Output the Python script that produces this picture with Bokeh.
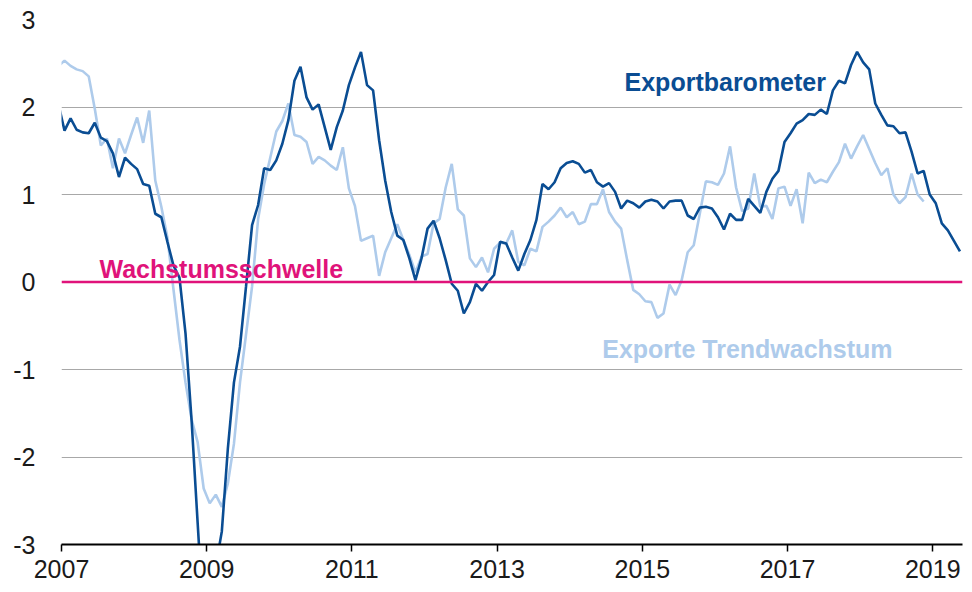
from bokeh.plotting import figure
from bokeh.models import FixedTicker, Span, Label
from bokeh.embed import file_html
from bokeh.resources import INLINE

# Monthly data, first value = Dec 2006 (plotted at mid-month)
start_year, start_month = 2006, 12

exportbarometer = [
    2.03, 1.73, 1.87, 1.74, 1.71, 1.70, 1.82, 1.65, 1.61, 1.47, 1.20, 1.42, 1.35,
    1.29, 1.12, 1.10, 0.78, 0.74, 0.46, 0.19, 0.05, -0.59, -1.58, -2.75, -3.90,
    -4.00, -3.25, -2.85, -1.90, -1.15, -0.74, -0.05, 0.65, 0.88, 1.30, 1.28, 1.39,
    1.58, 1.85, 2.30, 2.46, 2.11, 1.97, 2.03, 1.77, 1.51, 1.77, 1.96, 2.25, 2.45,
    2.63, 2.25, 2.19, 1.62, 1.16, 0.80, 0.53, 0.48, 0.27, 0.02, 0.27, 0.61, 0.70,
    0.50, 0.25, -0.02, -0.10, -0.36, -0.23, -0.02, -0.10, 0.00, 0.08, 0.46, 0.44,
    0.28, 0.13, 0.32, 0.48, 0.71, 1.12, 1.06, 1.14, 1.30, 1.36, 1.38, 1.35, 1.25,
    1.28, 1.14, 1.09, 1.13, 1.03, 0.84, 0.93, 0.90, 0.85, 0.92, 0.94, 0.92, 0.84,
    0.92, 0.93, 0.93, 0.76, 0.72, 0.85, 0.86, 0.84, 0.74, 0.60, 0.78, 0.71, 0.71,
    0.95, 0.87, 0.79, 1.03, 1.18, 1.27, 1.60, 1.70, 1.81, 1.85, 1.92, 1.91, 1.97,
    1.92, 2.19, 2.30, 2.27, 2.48, 2.63, 2.51, 2.43, 2.04, 1.91, 1.79, 1.78, 1.70,
    1.71, 1.49, 1.24, 1.27, 1.00, 0.90, 0.67, 0.59, 0.47, 0.35,
]

exporte_trend = [
    2.47, 2.53, 2.47, 2.43, 2.41, 2.35, 1.98, 1.56, 1.64, 1.30, 1.64, 1.47, 1.68,
    1.88, 1.59, 1.96, 1.16, 0.86, 0.51, -0.08, -0.66, -1.15, -1.57, -1.83, -2.36,
    -2.53, -2.43, -2.57, -2.30, -1.85, -1.15, -0.60, -0.05, 0.72, 1.12, 1.42, 1.72,
    1.84, 2.04, 1.68, 1.66, 1.60, 1.35, 1.43, 1.39, 1.33, 1.28, 1.54, 1.07, 0.87,
    0.47, 0.50, 0.53, 0.07, 0.34, 0.50, 0.66, 0.48, 0.31, 0.11, 0.29, 0.32, 0.67,
    0.72, 1.08, 1.35, 0.83, 0.76, 0.27, 0.17, 0.28, 0.11, 0.38, 0.45, 0.44, 0.59,
    0.23, 0.19, 0.38, 0.35, 0.63, 0.69, 0.76, 0.85, 0.74, 0.80, 0.66, 0.69, 0.89,
    0.89, 1.06, 0.80, 0.69, 0.61, 0.25, -0.09, -0.14, -0.22, -0.23, -0.41, -0.36,
    -0.03, -0.15, 0.02, 0.34, 0.42, 0.78, 1.15, 1.14, 1.11, 1.24, 1.55, 1.08, 0.81,
    0.84, 1.24, 0.86, 0.87, 0.72, 1.07, 1.09, 0.87, 1.06, 0.67, 1.25, 1.13, 1.17,
    1.14, 1.26, 1.37, 1.58, 1.41, 1.55, 1.68, 1.52, 1.36, 1.22, 1.30, 1.00, 0.90,
    0.97, 1.24, 1.00, 0.92,
]

year_ticks = [2007, 2009, 2011, 2013, 2015, 2017, 2019]
y_ticks = [-3, -2, -1, 0, 1, 2, 3]
y_labels = {v: str(v) for v in y_ticks}
x_labels = {v: str(v) for v in year_ticks}

label_baro = "Exportbarometer"
label_trend = "Exporte Trendwachstum"
label_zero = "Wachstumsschwelle"


def month_positions(n):
    base = start_year + (start_month - 1) / 12.0
    return [base + (i + 0.5) / 12.0 for i in range(n)]


x_baro = month_positions(len(exportbarometer))
x_trend = month_positions(len(exporte_trend))

DARK = "#0a4d93"
LIGHT = "#aecbeb"
MAGENTA = "#e0137a"
FONT = "Liberation Sans"

p = figure(width=972, height=592, x_range=(2007, 2019.41), y_range=(-3, 3),
           output_backend="svg", toolbar_location=None,
           min_border_left=61, min_border_right=10, min_border_top=19,
           min_border_bottom=48)
p.outline_line_color = None
p.background_fill_color = "white"
p.border_fill_color = "white"

p.xgrid.visible = False
p.ygrid.ticker = FixedTicker(ticks=[-2, -1, 1, 2, 3])
p.ygrid.grid_line_color = "#a8a8a8"
p.ygrid.grid_line_width = 1

p.xaxis.ticker = FixedTicker(ticks=year_ticks)
p.xaxis.major_label_overrides = x_labels
p.xaxis.axis_line_color = "black"
p.xaxis.axis_line_width = 2
p.xaxis.major_tick_line_color = "black"
p.xaxis.major_tick_line_width = 1.5
p.xaxis.major_tick_out = 7
p.xaxis.major_tick_in = 0
p.xaxis.minor_tick_line_color = None
p.xaxis.major_label_standoff = 8
p.xaxis.major_label_text_font = FONT
p.xaxis.major_label_text_font_size = "25px"
p.xaxis.major_label_text_color = "#1a1a1a"

p.yaxis.ticker = FixedTicker(ticks=y_ticks)
p.yaxis.major_label_overrides = y_labels
p.yaxis.axis_line_color = None
p.yaxis.major_tick_line_color = None
p.yaxis.minor_tick_line_color = None
p.yaxis.major_tick_out = 0
p.yaxis.major_tick_in = 0
p.yaxis.major_label_standoff = 26
p.yaxis.major_label_text_font = FONT
p.yaxis.major_label_text_font_size = "25px"
p.yaxis.major_label_text_color = "#1a1a1a"

p.line(x_trend, exporte_trend, line_color=LIGHT, line_width=2.6)
p.line(x_baro, exportbarometer, line_color=DARK, line_width=2.6)

p.add_layout(Span(location=0, dimension="width", line_color=MAGENTA, line_width=2.5))

p.add_layout(Label(x=2014.755, y=2.286, text=label_baro, text_color=DARK,
                   text_font=FONT, text_font_style="bold", text_font_size="25px",
                   text_baseline="alphabetic", text_align="left"))
p.add_layout(Label(x=2014.448, y=-0.761, text=label_trend, text_color=LIGHT,
                   text_font=FONT, text_font_style="bold", text_font_size="25px",
                   text_baseline="alphabetic", text_align="left"))
p.add_layout(Label(x=2007.523, y=0.153, text=label_zero, text_color=MAGENTA,
                   text_font=FONT, text_font_style="bold", text_font_size="25px",
                   text_baseline="alphabetic", text_align="left"))

open("out.html", "w").write(file_html(p, INLINE))
